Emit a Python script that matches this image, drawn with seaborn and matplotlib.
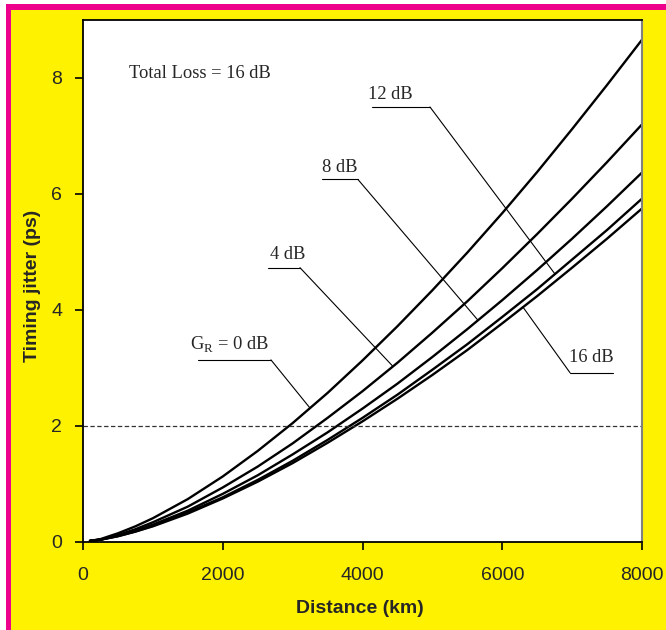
import numpy as np
import pandas as pd
import matplotlib
matplotlib.use("Agg")
import matplotlib.pyplot as plt
from matplotlib.patches import Rectangle
import seaborn as sns

# ---- data ----
distance_km = [100, 250, 500, 750, 1000, 1500, 2000, 2500, 3000, 3500, 4000,
               4500, 5000, 5500, 6000, 6500, 7000, 7500, 8000]
jitter_0dB = [0.02, 0.05, 0.15, 0.27, 0.41, 0.74, 1.13, 1.57, 2.05, 2.57, 3.13,
              3.72, 4.34, 4.99, 5.67, 6.38, 7.12, 7.88, 8.66]
jitter_4dB = [0.02, 0.04, 0.12, 0.22, 0.34, 0.61, 0.94, 1.30, 1.70, 2.14, 2.60,
              3.09, 3.61, 4.15, 4.72, 5.31, 5.92, 6.55, 7.20]
jitter_8dB = [0.02, 0.04, 0.11, 0.20, 0.30, 0.54, 0.83, 1.15, 1.51, 1.89, 2.30,
              2.73, 3.19, 3.67, 4.17, 4.69, 5.23, 5.79, 6.37]
jitter_12dB = [0.02, 0.04, 0.10, 0.18, 0.28, 0.51, 0.77, 1.07, 1.40, 1.76, 2.14,
               2.54, 2.97, 3.41, 3.88, 4.36, 4.87, 5.38, 5.92]
jitter_16dB = [0.02, 0.04, 0.10, 0.18, 0.27, 0.49, 0.75, 1.04, 1.36, 1.71, 2.08,
               2.47, 2.88, 3.31, 3.77, 4.24, 4.73, 5.23, 5.75]
gain_labels = ["0 dB", "4 dB", "8 dB", "12 dB", "16 dB"]
threshold_ps = 2.0
x_ticks = [0, 2000, 4000, 6000, 8000]
y_ticks = [0, 2, 4, 6, 8]

series = [jitter_0dB, jitter_4dB, jitter_8dB, jitter_12dB, jitter_16dB]
df = pd.concat([pd.DataFrame({"Distance": distance_km, "Jitter": s, "Gain": g})
                for s, g in zip(series, gain_labels)], ignore_index=True)

# ---- styling ----
sns.set_style("white")
plt.rcParams["font.family"] = ["Liberation Sans", "DejaVu Sans"]
plt.rcParams["mathtext.fontset"] = "custom"
plt.rcParams["mathtext.rm"] = "Liberation Serif"

YELLOW = "#FFF200"
MAGENTA = "#EC008C"
W, H = 666, 630
fig = plt.figure(figsize=(W / 100, H / 100), dpi=100, facecolor=YELLOW)
ax = fig.add_axes([83 / W, (H - 542) / H, 559 / W, 522 / H])
ax.set_facecolor("white")

# frame decoration (white strip + magenta bands on top/left)
fig.add_artist(Rectangle((0, 0), 6 / W, 1, transform=fig.transFigure,
                         facecolor="white", edgecolor="none", zorder=-1))
fig.add_artist(Rectangle((0, 1 - 4 / H), 1, 4 / H, transform=fig.transFigure,
                         facecolor="white", edgecolor="none", zorder=-1))
fig.add_artist(Rectangle((6 / W, 0), 5 / W, 1 - 4 / H, transform=fig.transFigure,
                         facecolor=MAGENTA, edgecolor="none", zorder=-1))
fig.add_artist(Rectangle((6 / W, 1 - 10 / H), 1 - 6 / W, 6 / H, transform=fig.transFigure,
                         facecolor=MAGENTA, edgecolor="none", zorder=-1))

sns.lineplot(data=df, x="Distance", y="Jitter", hue="Gain",
             palette=["black"] * len(gain_labels), legend=False,
             linewidth=1.7, ax=ax)
ax.axhline(threshold_ps, color="#333333", linewidth=0.9, linestyle=(0, (3.5, 2)))

ax.set_xlim(0, 8000)
ax.set_ylim(0, 9.0)
ax.set_xticks(x_ticks)
ax.set_yticks(y_ticks)
ax.tick_params(axis="both", direction="out", length=6, width=1.2, color="black",
               labelsize=14, left=True, bottom=True)
ax.tick_params(axis="x", pad=12)
ax.tick_params(axis="y", pad=9)
for side in ["left", "top", "bottom"]:
    ax.spines[side].set_color("black")
    ax.spines[side].set_linewidth(1.3)
ax.spines["right"].set_color("#808080")
ax.spines["right"].set_linewidth(1.5)

ax.set_xlabel("Distance (km)", fontsize=14, fontweight="bold")
ax.set_ylabel("Timing jitter (ps)", fontsize=14, fontweight="bold")
ax.xaxis.set_label_coords(0.495, -0.112)
ax.yaxis.set_label_coords(-0.075, 0.49)

# ---- annotations ----
serif = ["Liberation Serif", "DejaVu Serif"]
ax.text(1674, 8.07, "Total Loss = 16 dB", family=serif, fontsize=13.3,
        ha="center", va="center")

def leader(text, text_xy, under_x0, under_x1, under_y, curve_x, curve_vals):
    cy = float(np.interp(curve_x, distance_km, curve_vals))
    ax.text(text_xy[0], text_xy[1], text, family=serif, fontsize=13.3,
            ha="center", va="center")
    start_x = under_x1 if curve_x > under_x1 else under_x0
    ax.plot([under_x0, under_x1], [under_y, under_y], color="black", linewidth=0.8)
    ax.plot([start_x, curve_x], [under_y, cy], color="black", linewidth=0.8)

leader(r"G$_{\mathrm{R}}$ = 0 dB", (2090, 3.42), 1646, 2690, 3.14, 3249, jitter_0dB)
leader("4 dB", (2934, 4.96), 2648, 3105, 4.73, 4436, jitter_4dB)
leader("8 dB", (3678, 6.46), 3420, 3935, 6.25, 5653, jitter_8dB)
leader("12 dB", (4393, 7.72), 4136, 4966, 7.50, 6755, jitter_12dB)
# 16 dB: leader goes from left end of underline up-left to the curve
cy16 = float(np.interp(6297, distance_km, jitter_16dB))
ax.text(7270, 3.18, "16 dB", family=serif, fontsize=13.3, ha="center", va="center")
ax.plot([6969, 7585], [2.92, 2.92], color="black", linewidth=0.8)
ax.plot([6969, 6297], [2.92, cy16], color="black", linewidth=0.8)

fig.savefig("out.png", dpi=100, facecolor=YELLOW)
